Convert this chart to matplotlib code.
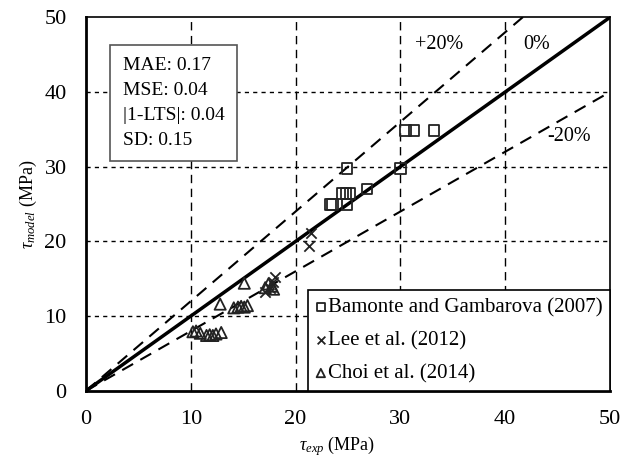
import matplotlib
matplotlib.use("Agg")
import matplotlib.pyplot as plt
import numpy as np

plt.rcParams["font.family"] = ["Liberation Serif", "DejaVu Serif"]
plt.rcParams["mathtext.fontset"] = "custom"
plt.rcParams["mathtext.rm"] = "Liberation Serif"
plt.rcParams["mathtext.it"] = "Liberation Serif:italic"

# experimental vs. predicted bond strength (MPa)
bamonte_exp = [30.5, 31.3, 33.2, 24.9, 30.0, 24.5, 24.8, 25.2, 26.8, 23.3, 23.5, 24.9]
bamonte_mod = [34.8, 34.8, 34.8, 29.8, 29.8, 26.4, 26.4, 26.4, 27.0, 24.9, 24.9, 24.9]

lee_exp = [21.3, 21.5, 17.1, 17.6, 17.8, 18.0]
lee_mod = [19.4, 21.1, 13.2, 13.8, 14.6, 15.2]

choi_exp = [10.2, 10.5, 10.9, 11.5, 11.8, 12.1, 12.4, 12.9,
            12.8, 14.1, 14.5, 14.8, 15.1, 15.4,
            15.1, 17.1, 17.4, 17.7, 17.9]
choi_mod = [7.9, 8.0, 7.7, 7.4, 7.5, 7.4, 7.6, 7.8,
            11.6, 11.1, 11.2, 11.3, 11.2, 11.4,
            14.4, 13.8, 14.3, 14.0, 13.6]

stats_text = "MAE: 0.17\nMSE: 0.04\n|1-LTS|: 0.04\nSD: 0.15"

fig = plt.figure(figsize=(6.33, 4.68), dpi=100)
ax = fig.add_axes([0.1359, 0.1650, 0.8278, 0.7981])

ax.set_xlim(0, 50)
ax.set_ylim(0, 50)
ticks = np.arange(0, 51, 10)
ax.set_xticks(ticks)
ax.set_yticks(ticks)
ax.tick_params(length=0, labelsize=16, pad=14)

# grid: long dashes vertically, short dashes horizontally
for v in ticks[1:-1]:
    ax.axvline(v, color="black", lw=1.0, ls=(0, (6, 4)), zorder=1)
    ax.axhline(v, color="black", lw=1.0, ls=(0, (3, 3)), zorder=1)

# 1:1 line and +/-20% bounds
xs = np.array([0, 50])
ax.plot(xs, xs, color="black", lw=2.5, zorder=2)
ax.plot(xs, 1.2 * xs, color="black", lw=1.5, ls=(0, (6, 4)), zorder=2)
ax.plot(xs, 0.8 * xs, color="black", lw=1.5, ls=(0, (6, 4)), zorder=2)

ax.text(31.4, 46.4, "+20%", fontsize=14.5, va="center")
ax.text(41.7, 46.4, "0%", fontsize=14.5, va="center")
ax.text(44.0, 34.0, "-20%", fontsize=14.5, va="center")

ax.scatter(bamonte_exp, bamonte_mod, marker="s", s=60, facecolors="none",
           edgecolors="#222222", linewidths=1.3, zorder=3,
           label="Bamonte and Gambarova (2007)")
ax.scatter(lee_exp, lee_mod, marker="x", s=55, color="#222222",
           linewidths=1.3, zorder=3, label="Lee et al. (2012)")
ax.scatter(choi_exp, choi_mod, marker="^", s=65, facecolors="none",
           edgecolors="#222222", linewidths=1.3, zorder=3,
           label="Choi et al. (2014)")

leg = ax.legend(loc="lower right", borderaxespad=0, fontsize=15,
                markerscale=0.75, handletextpad=0.1, handlelength=0.5,
                labelspacing=0.65, borderpad=0.35, fancybox=False,
                framealpha=1, edgecolor="black")
leg.get_frame().set_linewidth(1.2)
leg.set_zorder(5)

ax.text(0.0706, 0.893, stats_text, transform=ax.transAxes, fontsize=14,
        va="top", ha="left", linespacing=1.6, zorder=5,
        bbox=dict(boxstyle="square,pad=0.65", facecolor="white",
                  edgecolor="#555555", lw=1.2))

for side in ["left", "bottom"]:
    ax.spines[side].set_linewidth(2.0)
for side in ["top", "right"]:
    ax.spines[side].set_linewidth(1.2)

ax.set_xlabel(r"$\tau_{exp}$ (MPa)", fontsize=13)
ax.xaxis.set_label_coords(0.48, -0.115)
ax.set_ylabel(r"$\tau_{model}$ (MPa)", fontsize=13)

fig.savefig("out.png", dpi=100)
